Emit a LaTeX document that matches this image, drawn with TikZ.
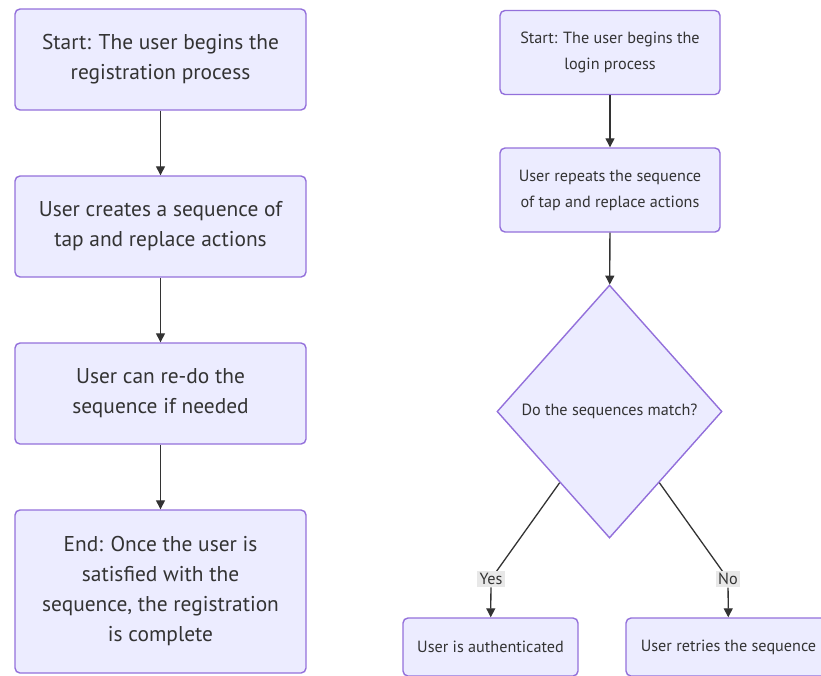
\documentclass[tikz,border=0pt]{standalone}
\usepackage{fontspec}
\setmainfont{PT Sans}
\usetikzlibrary{arrows.meta,positioning,shapes.geometric}
\definecolor{boxfill}{RGB}{236,236,255}
\definecolor{boxline}{RGB}{147,112,219}
\definecolor{inkgray}{RGB}{51,51,51}
\definecolor{lblfill}{RGB}{232,232,232}

\begin{document}
\begin{tikzpicture}[x=1pt, y=-1pt,
  stepbox/.style={draw=boxline, fill=boxfill, rounded corners=5pt,
    line width=1.4pt, align=center, text=inkgray, inner sep=0pt},
  bigbox/.style={stepbox, minimum width=291pt, minimum height=101pt,
    font=\fontsize{21.4}{30}\selectfont},
  smallbox/.style={stepbox, minimum width=220pt, minimum height=84pt,
    font=\fontsize{16.2}{26}\selectfont},
  endbox/.style={stepbox, minimum height=58pt,
    font=\fontsize{16.2}{26}\selectfont},
  decision/.style={diamond, draw=boxline, fill=boxfill, line width=1.4pt,
    minimum width=225pt, minimum height=253pt, inner sep=0pt, text=inkgray,
    font=\fontsize{16.2}{18}\selectfont},
  lbl/.style={fill=lblfill, inner sep=2.5pt, text=inkgray,
    font=\fontsize{16.2}{18}\selectfont},
  wire/.style={draw=inkgray, line width=1.3pt},
  flow/.style={wire, -{Triangle[length=9pt,width=9pt]}}]
  \useasboundingbox (0,0) rectangle (821,675);
  \clip (0,0) rectangle (821,675);

  % registration
  \node[bigbox] (reg1) at (160.5,59.5) {Start: The user begins the\\registration process};
  \node[bigbox] (reg2) at (160.5,226.5) {User creates a sequence of\\tap and replace actions};
  \node[bigbox] (reg3) at (160.5,393.5) {User can re-do the\\sequence if needed};
  \node[bigbox, minimum height=163pt] (reg4) at (160.5,591.5)
    {End: Once the user is\\satisfied with the\\sequence, the registration\\is complete};

  \draw[flow] (reg1) -- (reg2);
  \draw[flow] (reg2) -- (reg3);
  \draw[flow] (reg3) -- (reg4);

  % login
  \node[smallbox] (log1) at (610,52.5) {Start: The user begins the\\login process};
  \node[smallbox] (log2) at (610,190) {User repeats the sequence\\of tap and replace actions};
  \node[decision] (match) at (609.5,411.5) {Do the sequences match?};
  \node[endbox, minimum width=175pt] (auth) at (490.5,647) {User is authenticated};
  \node[endbox, minimum width=205pt] (retry) at (728.5,647) {User retries the sequence};

  \draw[flow] (log1) -- (log2);
  \draw[flow] (log2) -- (match);

  \coordinate (yespos) at (491,579);
  \coordinate (nopos) at (728,579);
  \draw[wire] (match.235) -- (yespos);
  \draw[wire] (match.305) -- (nopos);
  \node[lbl] (yes) at (yespos) {Yes};
  \node[lbl] (no) at (nopos) {No};
  \draw[flow] (yes) -- (auth);
  \draw[flow] (no) -- (retry);
\end{tikzpicture}
\end{document}
